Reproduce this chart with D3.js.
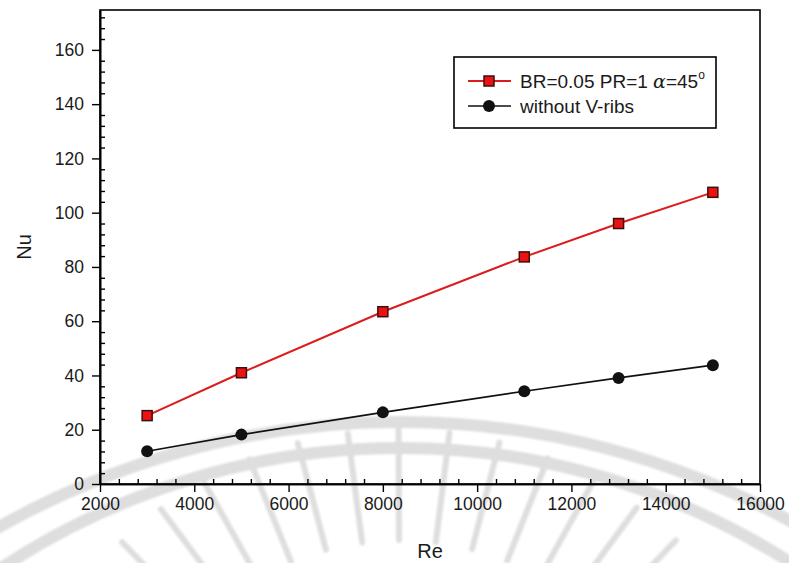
<!DOCTYPE html>
<html>
<head>
<meta charset="utf-8">
<script src="https://cdn.jsdelivr.net/npm/d3@7"></script>
<style>
  html, body { margin: 0; padding: 0; background: #fff; }
  svg { display: block; font-family: "Liberation Sans", Arial, sans-serif; }
</style>
</head>
<body>
<svg id="chart" width="789" height="563"></svg>
<script>
// Reynolds numbers tested
const reynolds = [3000, 5000, 8000, 11000, 13000, 15000];
// Average Nusselt number, ribbed channel (BR=0.05, PR=1, alpha=45)
const nuRibbed = [25.2, 41.0, 63.5, 83.7, 96.0, 107.5];
// Average Nusselt number, smooth channel
const nuSmooth = [12.1, 18.2, 26.4, 34.2, 39.1, 43.8];

const xTicks = [2000, 4000, 6000, 8000, 10000, 12000, 14000, 16000];
const yTicks = [0, 20, 40, 60, 80, 100, 120, 140, 160];
const xMinor = d3.range(2000, 16001, 400).filter(v => v % 2000 !== 0);
const yMinor = d3.range(0, 175, 4).filter(v => v % 20 !== 0);

const svg = d3.select("#chart");
const plot = { left: 100, right: 760, top: 10, bottom: 484 };

const x = d3.scaleLinear().domain([2000, 16000]).range([plot.left, plot.right]);
const y = d3.scaleLinear().domain([0, 174.7]).range([plot.bottom, plot.top]);

// faint background emblem: two arcs and a fan of rays
const defs = svg.append("defs");
defs.append("filter").attr("id", "soft").append("feGaussianBlur").attr("stdDeviation", 1.2);
const wm = svg.append("g").attr("fill", "none").attr("stroke", "#dedede")
  .attr("stroke-linecap", "round").attr("filter", "url(#soft)");
wm.append("circle").attr("cx", 400).attr("cy", 1240).attr("r", 818).attr("stroke-width", 12);
wm.append("circle").attr("cx", 400).attr("cy", 1170).attr("r", 722).attr("stroke-width", 12);
const rayAngles = d3.range(-44, 45, 7.3);
rayAngles.forEach(a => {
  const t = (a - 90) * Math.PI / 180;
  const cx = 400, cy = 830;
  const r0 = 290, r1 = 400;
  wm.append("line")
    .attr("x1", cx + r0 * Math.cos(t)).attr("y1", cy + r0 * Math.sin(t))
    .attr("x2", cx + r1 * Math.cos(t)).attr("y2", cy + r1 * Math.sin(t))
    .attr("stroke-width", 6);
});

// frame
svg.append("rect")
  .attr("x", plot.left).attr("y", plot.top)
  .attr("width", plot.right - plot.left).attr("height", plot.bottom - plot.top)
  .attr("fill", "none").attr("stroke", "#000").attr("stroke-width", 1.6);

// major axes
const xAxis = d3.axisBottom(x).tickValues(xTicks).tickSize(8).tickSizeOuter(0).tickPadding(6).tickFormat(d3.format("d"));
const yAxis = d3.axisLeft(y).tickValues(yTicks).tickSize(8).tickSizeOuter(0).tickPadding(8).tickFormat(d3.format("d"));

svg.append("g").attr("transform", `translate(0,${plot.bottom})`).call(xAxis);
svg.append("g").attr("transform", `translate(${plot.left},0)`).call(yAxis);

// minor ticks point inward
svg.append("g").attr("transform", `translate(0,${plot.bottom})`)
  .call(d3.axisBottom(x).tickValues(xMinor).tickSize(-5).tickSizeOuter(0).tickFormat(""));
svg.append("g").attr("transform", `translate(${plot.left},0)`)
  .call(d3.axisLeft(y).tickValues(yMinor).tickSize(-5).tickSizeOuter(0).tickFormat(""));

svg.selectAll(".domain").attr("stroke", "#000").attr("stroke-width", 1.6);
svg.selectAll(".tick line").attr("stroke", "#000").attr("stroke-width", 1.4);
svg.selectAll(".tick text").attr("font-size", 17.5).attr("fill", "#1a1a1a")
  .attr("font-family", "Liberation Sans, Arial, sans-serif");

// axis titles
svg.append("text").attr("x", 430).attr("y", 558).attr("text-anchor", "middle")
  .attr("font-size", 20).attr("fill", "#1a1a1a").text("Re");
svg.append("text").attr("transform", "translate(31,247) rotate(-90)").attr("text-anchor", "middle")
  .attr("font-size", 20).attr("fill", "#1a1a1a").text("Nu");

// series
const line = d3.line().x(d => x(d[0])).y(d => y(d[1]));
const ribbed = reynolds.map((r, i) => [r, nuRibbed[i]]);
const smooth = reynolds.map((r, i) => [r, nuSmooth[i]]);

svg.append("path").datum(smooth).attr("d", line)
  .attr("fill", "none").attr("stroke", "#111").attr("stroke-width", 1.6);
svg.append("path").datum(ribbed).attr("d", line)
  .attr("fill", "none").attr("stroke", "#dc1c1c").attr("stroke-width", 2);

const sq = 10;
svg.append("g").selectAll("rect").data(ribbed).join("rect")
  .attr("x", d => x(d[0]) - sq / 2).attr("y", d => y(d[1]) - sq / 2)
  .attr("width", sq).attr("height", sq)
  .attr("fill", "#ee1111").attr("stroke", "#3a1010").attr("stroke-width", 1.5);
svg.append("g").selectAll("circle").data(smooth).join("circle")
  .attr("cx", d => x(d[0])).attr("cy", d => y(d[1])).attr("r", 6)
  .attr("fill", "#111");

// legend
const lg = svg.append("g");
lg.append("rect").attr("x", 454).attr("y", 57).attr("width", 262).attr("height", 71)
  .attr("fill", "#fff").attr("stroke", "#000").attr("stroke-width", 1.6);

lg.append("line").attr("x1", 468).attr("x2", 511).attr("y1", 81).attr("y2", 81)
  .attr("stroke", "#dc1c1c").attr("stroke-width", 2);
lg.append("rect").attr("x", 489 - sq / 2).attr("y", 81 - sq / 2).attr("width", sq).attr("height", sq)
  .attr("fill", "#ee1111").attr("stroke", "#3a1010").attr("stroke-width", 1.5);
lg.append("line").attr("x1", 468).attr("x2", 511).attr("y1", 106).attr("y2", 106)
  .attr("stroke", "#111").attr("stroke-width", 1.6);
lg.append("circle").attr("cx", 489).attr("cy", 106).attr("r", 6).attr("fill", "#111");

const t1 = lg.append("text").attr("x", 520).attr("y", 88).attr("font-size", 19).attr("fill", "#1a1a1a");
t1.append("tspan").text("BR=0.05 PR=1 ");
t1.append("tspan").attr("font-family", "DejaVu Serif, serif").attr("font-style", "italic").text("α");
t1.append("tspan").text("=45");
t1.append("tspan").attr("font-size", 12).attr("dy", -9).text("o");
lg.append("text").attr("x", 520).attr("y", 113).attr("font-size", 19).attr("fill", "#1a1a1a")
  .text("without V-ribs");
</script>
</body>
</html>
